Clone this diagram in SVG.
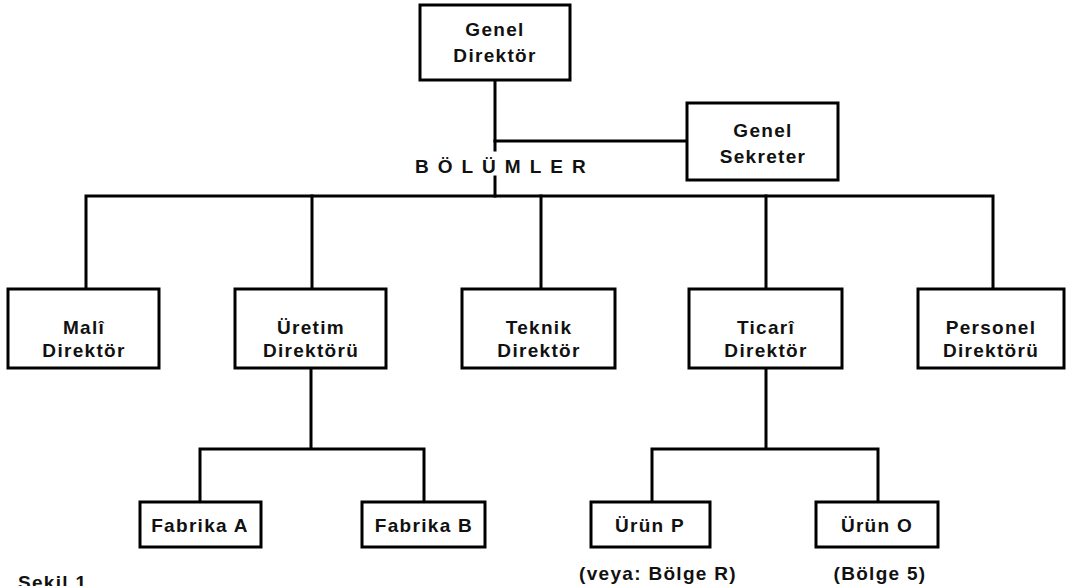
<svg xmlns="http://www.w3.org/2000/svg" width="1069" height="586" viewBox="0 0 1069 586">
<style>
  .box { fill: #fff; stroke: #000; stroke-width: 3; }
  .ln { stroke: #000; stroke-width: 3; fill: none; stroke-linecap: square; }
  .t { font-family: "Liberation Sans", Arial, sans-serif; font-weight: bold; font-size: 19px; letter-spacing: 1.3px; text-anchor: middle; fill: #111; }
  .h { font-family: "Liberation Sans", Arial, sans-serif; font-weight: bold; font-size: 19px; letter-spacing: 9px; fill: #111; }
  .c { font-family: "Liberation Sans", Arial, sans-serif; font-weight: bold; font-size: 19px; letter-spacing: 1.3px; fill: #111; }
</style>
<rect width="1069" height="586" fill="#fff"/>
<g id="connectors">
  <path class="ln" d="M495 80 V150 M495 177 V196"/>
  <path class="ln" d="M495 141 H687"/>
  <path class="ln" d="M86 289 V196 H993 V289"/>
  <path class="ln" d="M312 196 V289 M541 196 V289 M766 196 V289"/>
  <path class="ln" d="M311 368 V449 M200 502 V449 H424 V502"/>
  <path class="ln" d="M766 368 V449 M652 502 V449 H878 V502"/>
</g>
<text class="h" x="415" y="173">BÖLÜMLER</text>
<g id="genel-direktor">
  <rect class="box" x="420" y="5" width="150" height="75"/>
  <text class="t" x="495" y="36">Genel</text>
  <text class="t" x="495" y="62">Direktör</text>
</g>
<g id="genel-sekreter">
  <rect class="box" x="687" y="103" width="151" height="77"/>
  <text class="t" x="763" y="137">Genel</text>
  <text class="t" x="763" y="163">Sekreter</text>
</g>
<g id="mali">
  <rect class="box" x="8" y="289" width="151" height="79"/>
  <text class="t" x="84" y="334">Malî</text>
  <text class="t" x="84" y="357">Direktör</text>
</g>
<g id="uretim">
  <rect class="box" x="235" y="289" width="151" height="79"/>
  <text class="t" x="311" y="334">Üretim</text>
  <text class="t" x="311" y="357">Direktörü</text>
</g>
<g id="teknik">
  <rect class="box" x="462" y="289" width="153" height="79"/>
  <text class="t" x="539" y="334">Teknik</text>
  <text class="t" x="539" y="357">Direktör</text>
</g>
<g id="ticari">
  <rect class="box" x="689" y="289" width="153" height="79"/>
  <text class="t" x="766" y="334">Ticarî</text>
  <text class="t" x="766" y="357">Direktör</text>
</g>
<g id="personel">
  <rect class="box" x="918" y="289" width="146" height="79"/>
  <text class="t" x="991" y="334">Personel</text>
  <text class="t" x="991" y="357">Direktörü</text>
</g>
<g id="fabrika-a">
  <rect class="box" x="140" y="502" width="121" height="45"/>
  <text class="t" x="200" y="532">Fabrika  A</text>
</g>
<g id="fabrika-b">
  <rect class="box" x="362" y="502" width="123" height="45"/>
  <text class="t" x="424" y="532">Fabrika  B</text>
</g>
<g id="urun-p">
  <rect class="box" x="591" y="502" width="119" height="45"/>
  <text class="t" x="650" y="532">Ürün  P</text>
  <text class="t" x="658" y="580">(veya:  Bölge  R)</text>
</g>
<g id="urun-o">
  <rect class="box" x="816" y="502" width="122" height="45"/>
  <text class="t" x="877" y="532">Ürün  O</text>
  <text class="t" x="880" y="580">(Bölge  5)</text>
</g>
<text class="c" x="18" y="589">Sekil  1</text>
</svg>
